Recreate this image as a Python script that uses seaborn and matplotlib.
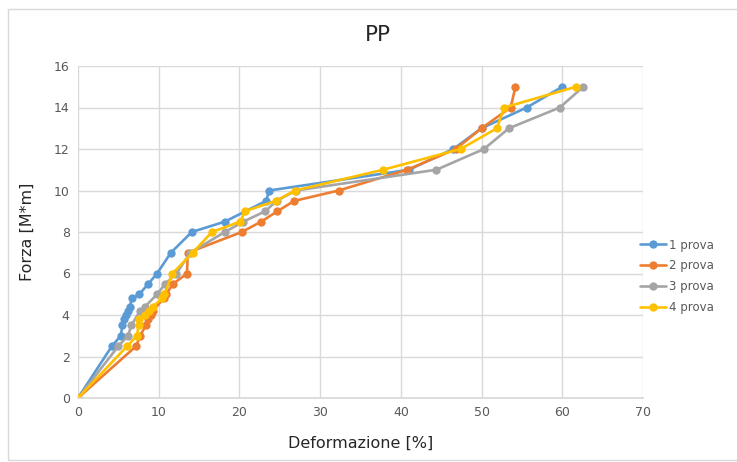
import numpy as np
import pandas as pd
import matplotlib
matplotlib.use('Agg')
import matplotlib.pyplot as plt
import seaborn as sns

# Readings taken off the chart (deformation %, force M*m)
x1 = [0, 4.2, 5.3, 5.5, 5.7, 6.0, 6.2, 6.4, 6.7, 7.6, 8.7, 9.8, 11.5, 14.1, 18.2, 23.3, 23.7, 41.0, 46.5, 50.0, 55.6, 60.0]
y1 = [0, 2.5, 3.0, 3.5, 3.8, 4.0, 4.2, 4.4, 4.8, 5.0, 5.5, 6.0, 7.0, 8.0, 8.5, 9.5, 10.0, 11.0, 12.0, 13.0, 14.0, 15.0]

x2 = [0, 7.2, 7.7, 8.4, 8.7, 9.0, 9.3, 10.6, 10.9, 11.8, 13.5, 13.6, 20.3, 22.7, 24.7, 26.8, 32.3, 40.8, 46.8, 50.0, 53.6, 54.2]
y2 = [0, 2.5, 3.0, 3.5, 3.8, 4.0, 4.2, 4.8, 5.0, 5.5, 6.0, 7.0, 8.0, 8.5, 9.0, 9.5, 10.0, 11.0, 12.0, 13.0, 14.0, 15.0]

x3 = [0, 5.0, 6.2, 6.6, 7.7, 8.3, 9.8, 10.8, 12.2, 13.9, 18.2, 20.5, 23.2, 24.6, 27.0, 44.4, 50.3, 53.4, 59.7, 62.6]
y3 = [0, 2.5, 3.0, 3.5, 4.2, 4.4, 5.0, 5.5, 6.0, 7.0, 8.0, 8.5, 9.0, 9.5, 10.0, 11.0, 12.0, 13.0, 14.0, 15.0]

x4 = [0, 6.1, 7.3, 7.5, 7.6, 8.3, 8.8, 9.3, 10.4, 10.7, 11.7, 14.2, 16.6, 20.1, 20.7, 24.5, 26.9, 37.8, 47.4, 51.9, 52.8, 61.7]
y4 = [0, 2.5, 3.0, 3.5, 3.8, 4.0, 4.2, 4.4, 4.8, 5.0, 6.0, 7.0, 8.0, 8.5, 9.0, 9.5, 10.0, 11.0, 12.0, 13.0, 14.0, 15.0]

series = ['1 prova', '2 prova', '3 prova', '4 prova']
colors = ['#5B9BD5', '#ED7D31', '#A5A5A5', '#FFC000']

frames = []
for name, xs, ys in zip(series, [x1, x2, x3, x4], [y1, y2, y3, y4]):
    frames.append(pd.DataFrame({'def': xs, 'forza': ys, 'prova': name,
                                'order': np.arange(len(xs))}))
data = pd.concat(frames, ignore_index=True)

sns.set_theme(style='white')
plt.rcParams['font.family'] = ['DejaVu Sans']

fig = plt.figure(figsize=(7.37, 4.62), dpi=100)
ax = fig.add_axes([78 / 737, 1 - 398 / 462, (643 - 78) / 737, (398 - 66) / 462])

sns.lineplot(data=data, x='def', y='forza', hue='prova', units='prova',
             estimator=None, sort=False, palette=dict(zip(series, colors)),
             marker='o', markersize=6, markeredgewidth=0, linewidth=1.9,
             ax=ax, legend=True)

ax.set_xlim(0, 70)
ax.set_ylim(0, 16)
ax.set_xticks(range(0, 71, 10))
ax.set_yticks(range(0, 17, 2))
ax.grid(True, color='#D9D9D9', linewidth=1)
ax.set_axisbelow(True)
for s in ['top', 'right', 'left']:
    ax.spines[s].set_visible(False)
ax.spines['bottom'].set_color('#D9D9D9')
ax.tick_params(axis='both', labelsize=9, colors='#595959', length=0, pad=6)

ax.set_xlabel('Deformazione [%]', fontsize=11.5, color='#262626', labelpad=12)
ax.set_ylabel('Forza [M*m]', fontsize=11.5, color='#262626', labelpad=14)
fig.text(378 / 737, 1 - 35 / 462, 'PP', ha='center', va='center',
         fontsize=15.5, color='#262626')

handles, labels = ax.get_legend_handles_labels()
ax.legend_.remove()
fig.legend(handles, labels, loc='upper left', bbox_to_anchor=(629 / 737, 1 - 228 / 462),
           frameon=False, fontsize=8.5, labelcolor='#595959', handlelength=2.2,
           handletextpad=0.3, labelspacing=0.66)

# light chart border like the spreadsheet frame
fig.patches.append(plt.Rectangle((8 / 737, 0.005), 0.99, 1 - 9 / 462 - 0.005,
                                 transform=fig.transFigure, fill=False,
                                 edgecolor='#D9D9D9', linewidth=1))

fig.savefig('out.png', dpi=100)
